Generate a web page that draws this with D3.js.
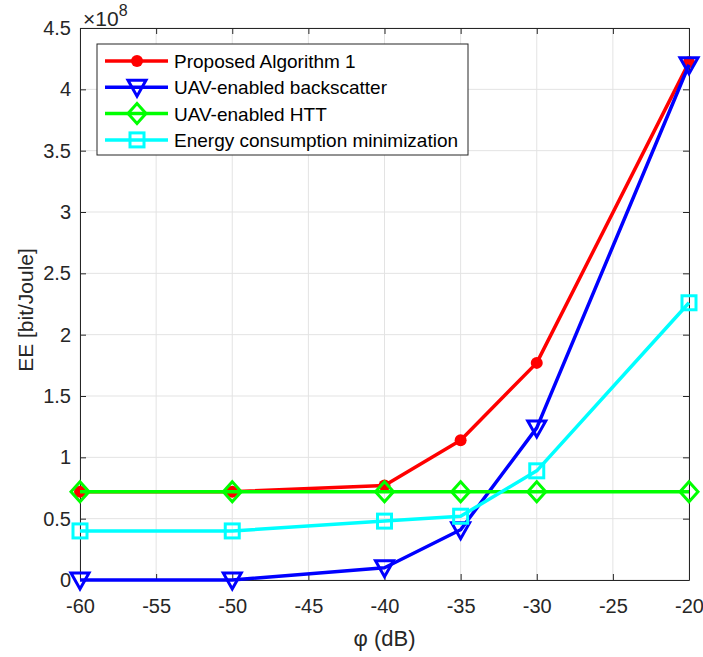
<!DOCTYPE html>
<html>
<head>
<meta charset="utf-8">
<script src="https://cdn.jsdelivr.net/npm/d3@7"></script>
<style>
  body { margin: 0; background: #fff; }
  text { font-family: "Liberation Sans", Arial, sans-serif; }
</style>
</head>
<body>
<script>
// data (EE in units of 1e8 bit/Joule)
const phi = [-60, -50, -40, -35, -30, -20];
const proposed = [0.72, 0.72, 0.77, 1.14, 1.77, 4.22];
const backscatter = [0.0, 0.0, 0.1, 0.41, 1.24, 4.2];
const htt = [0.72, 0.72, 0.72, 0.72, 0.72, 0.72];
const energyMin = [0.4, 0.4, 0.48, 0.52, 0.89, 2.26];
const xTicks = [-60, -55, -50, -45, -40, -35, -30, -25, -20];
const yTicks = [0, 0.5, 1, 1.5, 2, 2.5, 3, 3.5, 4, 4.5];

const series = [
  { name: 'Proposed Algorithm 1', values: proposed, color: '#ff0000', marker: 'circle' },
  { name: 'UAV-enabled backscatter', values: backscatter, color: '#0000ff', marker: 'triangle' },
  { name: 'UAV-enabled HTT', values: htt, color: '#00ff00', marker: 'diamond' },
  { name: 'Energy consumption minimization', values: energyMin, color: '#00ffff', marker: 'square' },
];

const width = 703;
const height = 657;
const margin = { left: 80, right: 14, top: 28, bottom: 77 };
const tickFont = 20;
const axisColor = '#262626';

const svg = d3
  .select('body')
  .append('svg')
  .attr('width', width)
  .attr('height', height);

const x = d3
  .scaleLinear()
  .domain([-60, -20])
  .range([margin.left, width - margin.right]);

const y = d3
  .scaleLinear()
  .domain([0, 4.5])
  .range([height - margin.bottom, margin.top]);

// grid
svg
  .append('g')
  .selectAll('line')
  .data(xTicks)
  .enter()
  .append('line')
  .attr('x1', (d) => x(d))
  .attr('x2', (d) => x(d))
  .attr('y1', y(0))
  .attr('y2', y(4.5))
  .attr('stroke', '#e3e3e3')
  .attr('stroke-width', 1);

svg
  .append('g')
  .selectAll('line')
  .data(yTicks)
  .enter()
  .append('line')
  .attr('x1', x(-60))
  .attr('x2', x(-20))
  .attr('y1', (d) => y(d))
  .attr('y2', (d) => y(d))
  .attr('stroke', '#e3e3e3')
  .attr('stroke-width', 1);

// axes (ticks inward, box on)
const fmt = (d) => String(d);
const xAxis = d3.axisBottom(x).tickValues(xTicks).tickSize(-6).tickPadding(19).tickSizeOuter(0).tickFormat(fmt);
const yAxis = d3.axisLeft(y).tickValues(yTicks).tickSize(-6).tickPadding(9).tickSizeOuter(0).tickFormat(fmt);
const xTop = d3.axisTop(x).tickValues(xTicks).tickSize(-6).tickFormat('').tickSizeOuter(0);
const yRight = d3.axisRight(y).tickValues(yTicks).tickSize(-6).tickFormat('').tickSizeOuter(0);

const styleAxis = (g) => {
  g.select('.domain').attr('stroke', axisColor);
  g.selectAll('.tick line').attr('stroke', axisColor);
  g.selectAll('.tick text')
    .attr('fill', axisColor)
    .style('font-size', tickFont + 'px')
    .style('font-family', '"Liberation Sans", Arial, sans-serif');
};

svg.append('g').attr('transform', `translate(0,${y(0)})`).call(xAxis).call(styleAxis);
svg.append('g').attr('transform', `translate(${x(-60)},0)`).call(yAxis).call(styleAxis);
svg.append('g').attr('transform', `translate(0,${y(4.5)})`).call(xTop).call(styleAxis);
svg.append('g').attr('transform', `translate(${x(-20)},0)`).call(yRight).call(styleAxis);

// exponent label
const expo = svg
  .append('text')
  .attr('x', x(-60) + 3)
  .attr('y', 26)
  .attr('fill', axisColor)
  .style('font-size', '21px');
expo.append('tspan').text('×10');
expo.append('tspan').attr('dy', -10).style('font-size', '16px').text('8');

// axis labels
svg
  .append('text')
  .attr('x', (x(-60) + x(-20)) / 2)
  .attr('y', height - 11)
  .attr('text-anchor', 'middle')
  .attr('fill', axisColor)
  .style('font-size', '22px')
  .text('φ (dB)');

svg
  .append('text')
  .attr('transform', `translate(33,${(y(0) + y(4.5)) / 2 + 6})rotate(-90)`)
  .attr('text-anchor', 'middle')
  .attr('fill', axisColor)
  .style('font-size', '21px')
  .text('EE [bit/Joule]');

// markers
const drawMarker = (g, type, color, cx, cy) => {
  if (type === 'circle') {
    g.append('circle').attr('cx', cx).attr('cy', cy).attr('r', 6).attr('fill', color);
  } else if (type === 'triangle') {
    g.append('path')
      .attr('d', `M${cx - 9},${cy - 7}L${cx + 9},${cy - 7}L${cx},${cy + 9}Z`)
      .attr('fill', 'none')
      .attr('stroke', color)
      .attr('stroke-width', 3);
  } else if (type === 'diamond') {
    g.append('path')
      .attr('d', `M${cx},${cy - 10}L${cx + 9},${cy}L${cx},${cy + 10}L${cx - 9},${cy}Z`)
      .attr('fill', 'none')
      .attr('stroke', color)
      .attr('stroke-width', 3);
  } else {
    g.append('rect')
      .attr('x', cx - 7)
      .attr('y', cy - 7)
      .attr('width', 14)
      .attr('height', 14)
      .attr('fill', 'none')
      .attr('stroke', color)
      .attr('stroke-width', 3);
  }
};

const line = d3
  .line()
  .x((d) => x(d[0]))
  .y((d) => y(d[1]));

series.forEach((s) => {
  const g = svg.append('g');
  const pts = phi.map((p, i) => [p, s.values[i]]);
  g.append('path')
    .attr('d', line(pts))
    .attr('fill', 'none')
    .attr('stroke', s.color)
    .attr('stroke-width', 3.5)
    .attr('stroke-linejoin', 'round');
  pts.forEach((p) => drawMarker(g, s.marker, s.color, x(p[0]), y(p[1])));
});

// legend
const legend = svg.append('g').attr('transform', 'translate(97,44)');
legend
  .append('rect')
  .attr('width', 371)
  .attr('height', 111)
  .attr('fill', '#fff')
  .attr('stroke', axisColor)
  .attr('stroke-width', 1);

series.forEach((s, i) => {
  const ly = 17 + i * 26.3;
  const row = legend.append('g');
  row.append('line')
    .attr('x1', 8)
    .attr('x2', 71)
    .attr('y1', ly)
    .attr('y2', ly)
    .attr('stroke', s.color)
    .attr('stroke-width', 3.5);
  drawMarker(row, s.marker, s.color, 40, ly);
  row.append('text')
    .attr('x', 77)
    .attr('y', ly + 7)
    .attr('fill', '#000')
    .style('font-size', '19px')
    .text(s.name);
});
</script>
</body>
</html>
